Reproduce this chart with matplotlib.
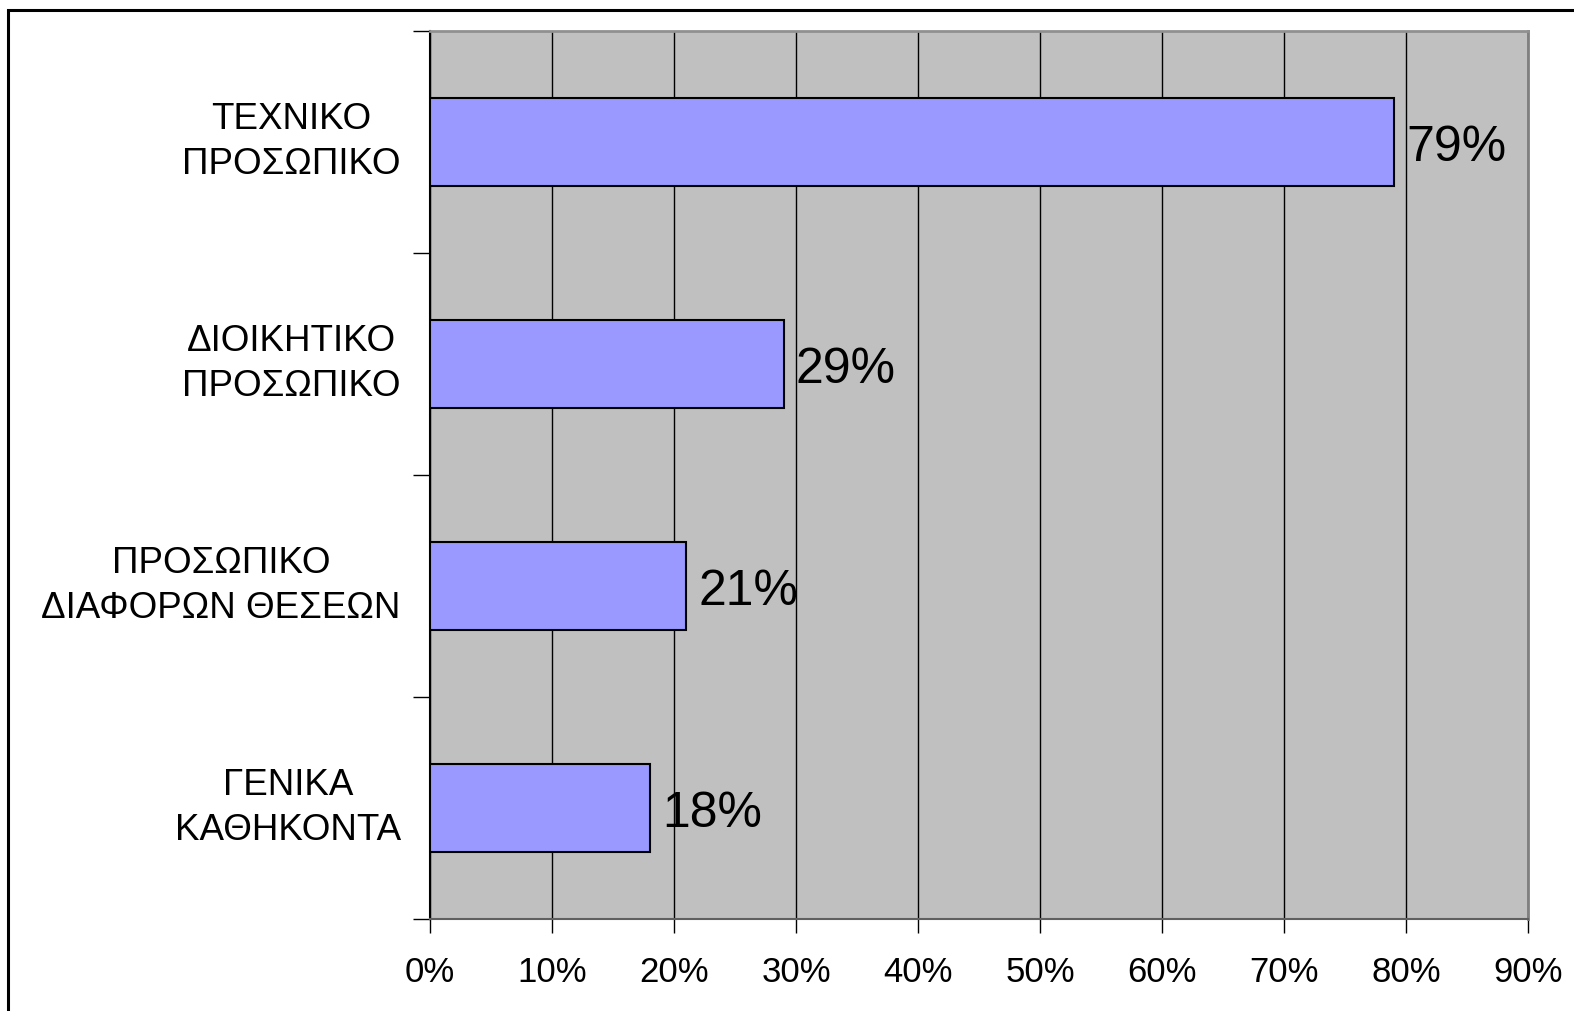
import matplotlib.pyplot as plt
import matplotlib.patches as mpatches
from matplotlib.ticker import FixedLocator, FuncFormatter

plt.rcParams['font.family'] = ['Liberation Sans', 'DejaVu Sans']

# Κατηγορίες προσωπικού και ποσοστά
categories = [
    "ΤΕΧΝΙΚΟ\nΠΡΟΣΩΠΙΚΟ",
    "ΔΙΟΙΚΗΤΙΚΟ\nΠΡΟΣΩΠΙΚΟ",
    "ΠΡΟΣΩΠΙΚΟ\nΔΙΑΦΟΡΩΝ ΘΕΣΕΩΝ",
    "ΓΕΝΙΚΑ\nΚΑΘΗΚΟΝΤΑ",
]
percentages = [79, 29, 21, 18]
x_ticks = [0, 10, 20, 30, 40, 50, 60, 70, 80, 90]

fig = plt.figure(figsize=(15.74, 10.11), dpi=100)
ax = fig.add_axes([430 / 1574, 1 - 919 / 1011, 1098 / 1574, 888 / 1011])

ax.set_facecolor('#C0C0C0')
ax.set_axisbelow(True)

y = list(range(len(categories)))
ax.barh(y, percentages, height=0.4, color='#9999FF', edgecolor='black', linewidth=1.5, zorder=3)

for yi, v in zip(y, percentages):
    ax.text(v + 1.0, yi + 0.025, f"{v}%", va='center', ha='left', fontsize=36,
            color='black', zorder=4)

ax.set_xlim(0, 90)
ax.set_ylim(len(categories) - 0.5, -0.5)

ax.xaxis.set_major_locator(FixedLocator(x_ticks))
ax.xaxis.set_major_formatter(FuncFormatter(lambda v, p: f"{v:.0f}%"))
ax.tick_params(axis='x', direction='out', length=10, width=1, color='black',
               labelsize=25, pad=17)
ax.grid(axis='x', color='black', linewidth=1, zorder=0)

# Διαχωριστικές γραμμές κατηγοριών στον άξονα y
ax.yaxis.set_major_locator(FixedLocator([i - 0.5 for i in range(len(categories) + 1)]))
ax.yaxis.set_major_formatter(FuncFormatter(lambda v, p: ""))
ax.yaxis.set_minor_locator(FixedLocator(y))
ax.set_yticklabels(categories, minor=True)
ax.tick_params(axis='y', which='major', direction='out', length=12, width=1, color='black')
ax.tick_params(axis='y', which='minor', length=0, labelsize=26.5, pad=21)
for lbl in ax.get_yticklabels(minor=True):
    lbl.set_multialignment('center')
    lbl.set_linespacing(1.35)
    lbl.set_verticalalignment('center')

ax.spines['left'].set_color('black')
ax.spines['left'].set_linewidth(1.5)
ax.spines['bottom'].set_color('#606060')
ax.spines['bottom'].set_linewidth(1.5)
ax.spines['right'].set_color('#808080')
ax.spines['right'].set_linewidth(2)
ax.spines['top'].set_color('#909090')
ax.spines['top'].set_linewidth(2)

# Πλαίσιο γύρω από το διάγραμμα
frame = mpatches.Rectangle((8 / 1574, -0.05), 1.1, 1 - 10 / 1011 + 0.05,
                           transform=fig.transFigure, fill=False,
                           edgecolor='black', linewidth=2.2, clip_on=False)
fig.patches.append(frame)

fig.savefig('out.png', dpi=100)
